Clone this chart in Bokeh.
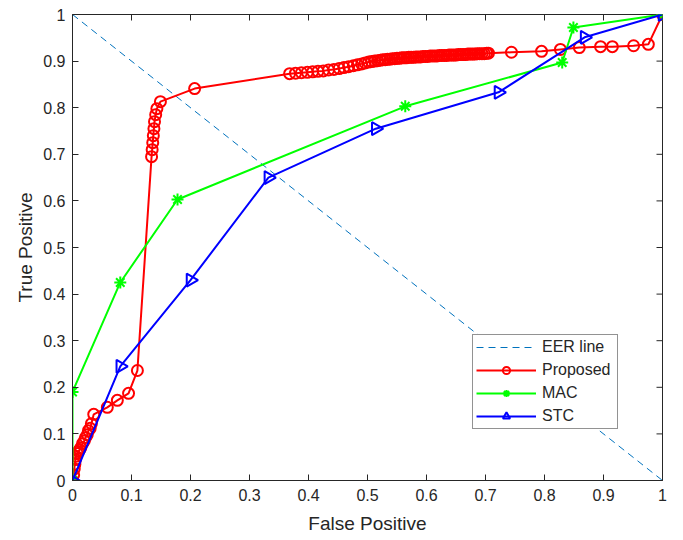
import math
from bokeh.plotting import figure
from bokeh.models import Range1d, Legend, LegendItem, FixedTicker
from bokeh.embed import file_html
from bokeh.resources import INLINE

# ---- data ----
ticks = [0.0, 0.1, 0.2, 0.3, 0.4, 0.5, 0.6, 0.7, 0.8, 0.9, 1.0]
tick_labels = ["0", "0.1", "0.2", "0.3", "0.4", "0.5", "0.6", "0.7", "0.8", "0.9", "1"]

eer_fp = [0.0, 1.0]
eer_tp = [1.0, 0.0]

prop_fp = [0.0, 0.002, 0.003, 0.004, 0.005, 0.006, 0.008, 0.010, 0.012, 0.014,
           0.017, 0.020, 0.022, 0.025, 0.027, 0.030, 0.032, 0.036,
           0.059, 0.076, 0.095, 0.110,
           0.134, 0.135, 0.136, 0.137, 0.138, 0.139, 0.141, 0.143, 0.149,
           0.207,
           0.368, 0.378, 0.388, 0.398, 0.407, 0.416, 0.425, 0.434, 0.443, 0.452,
           0.460, 0.468, 0.476, 0.483, 0.490,
           0.496, 0.502, 0.507, 0.512, 0.517,
           0.522, 0.526, 0.530, 0.534, 0.538, 0.542, 0.546, 0.550, 0.554, 0.558,
           0.562, 0.566, 0.570, 0.574, 0.578, 0.582, 0.586, 0.590, 0.594, 0.598,
           0.602, 0.606, 0.610, 0.614, 0.618, 0.622, 0.626, 0.630, 0.634, 0.638,
           0.642, 0.646, 0.650, 0.654, 0.658, 0.662, 0.666, 0.670, 0.674, 0.678,
           0.682, 0.686, 0.690, 0.694, 0.698, 0.702, 0.705,
           0.744, 0.795, 0.827, 0.859, 0.895, 0.915, 0.951, 0.976, 1.0]
prop_tp = [0.0, 0.012, 0.025, 0.035, 0.045, 0.052, 0.058, 0.062, 0.066, 0.070,
           0.079, 0.085, 0.092, 0.098, 0.107, 0.112, 0.122, 0.142,
           0.157, 0.172, 0.187, 0.236,
           0.695, 0.710, 0.725, 0.740, 0.755, 0.770, 0.785, 0.798, 0.813,
           0.841,
           0.873, 0.874, 0.875, 0.876, 0.877, 0.878, 0.879, 0.881, 0.882, 0.884,
           0.886, 0.888, 0.890, 0.892, 0.894,
           0.896, 0.898, 0.899, 0.900, 0.901,
           0.902, 0.903, 0.903, 0.904, 0.904, 0.905, 0.905, 0.906, 0.906, 0.907,
           0.907, 0.907, 0.908, 0.908, 0.908, 0.909, 0.909, 0.909, 0.910, 0.910,
           0.910, 0.911, 0.911, 0.911, 0.911, 0.912, 0.912, 0.912, 0.912, 0.913,
           0.913, 0.913, 0.913, 0.914, 0.914, 0.914, 0.914, 0.915, 0.915, 0.915,
           0.915, 0.916, 0.916, 0.916, 0.916, 0.917, 0.917,
           0.919, 0.921, 0.925, 0.929, 0.931, 0.931, 0.933, 0.936, 1.0]

mac_fp = [0.0, 0.0, 0.081, 0.178, 0.564, 0.830, 0.849, 1.0]
mac_tp = [0.0, 0.190, 0.425, 0.603, 0.803, 0.897, 0.972, 1.0]

stc_fp = [0.0, 0.081, 0.200, 0.332, 0.514, 0.722, 0.868, 1.0]
stc_tp = [0.0, 0.245, 0.430, 0.650, 0.755, 0.833, 0.951, 1.0]

FONT = "Liberation Sans"
TXT = "#262626"

p = figure(width=683, height=540, output_backend="svg", toolbar_location=None,
           x_range=Range1d(0, 1), y_range=Range1d(0, 1),
           min_border_left=72, min_border_right=21, min_border_top=14, min_border_bottom=60,
           background_fill_color="white", border_fill_color="white")
p.xgrid.visible = False
p.ygrid.visible = False
p.outline_line_color = TXT

for ax in (p.xaxis[0], p.yaxis[0]):
    ax.ticker = FixedTicker(ticks=ticks)
    ax.major_label_overrides = {t: l for t, l in zip(ticks, tick_labels)}
    ax.major_tick_in = 6
    ax.major_tick_out = 0
    ax.minor_tick_in = 0
    ax.minor_tick_out = 0
    ax.axis_line_color = TXT
    ax.major_tick_line_color = TXT
    ax.major_label_text_font = FONT
    ax.major_label_text_font_size = "16px"
    ax.major_label_text_color = TXT
    ax.axis_label_text_font = FONT
    ax.axis_label_text_font_size = "19px"
    ax.axis_label_text_font_style = "normal"
    ax.axis_label_text_color = TXT

p.xaxis[0].axis_label = "False Positive"
p.yaxis[0].axis_label = "True Positive"
p.xaxis[0].major_label_standoff = 8
p.xaxis[0].axis_label_standoff = 9
p.yaxis[0].major_label_standoff = 7
p.yaxis[0].axis_label_standoff = 4

# mirrored inward ticks on the top and right edges of the box
n = len(ticks)
p.ray(x=ticks, y=[ticks[-1]] * n, length=6, length_units="screen", angle=-math.pi / 2,
      line_color=TXT, line_width=1)
p.ray(x=[ticks[-1]] * n, y=ticks, length=6, length_units="screen", angle=math.pi,
      line_color=TXT, line_width=1)

eer = p.line(eer_fp, eer_tp, line_color="#0072BD", line_width=1, line_dash="7 5")

pl = p.line(prop_fp, prop_tp, line_color="#FF0000", line_width=2)
ps = p.scatter(prop_fp, prop_tp, marker="circle", size=11, line_color="#FF0000",
               line_width=2, fill_alpha=0)

ml = p.line(mac_fp, mac_tp, line_color="#00FF00", line_width=2)
ms = p.scatter(mac_fp, mac_tp, marker="asterisk", size=12, line_color="#00FF00",
               line_width=2)

sl = p.line(stc_fp, stc_tp, line_color="#0000FF", line_width=2)
ss = p.scatter(stc_fp, stc_tp, marker="triangle", size=13, angle=-math.pi / 2,
               line_color="#0000FF", line_width=2, fill_alpha=0)

legend = Legend(items=[
    LegendItem(label="EER line", renderers=[eer]),
    LegendItem(label="Proposed", renderers=[pl, ps]),
    LegendItem(label="MAC", renderers=[ml, ms]),
    LegendItem(label="STC", renderers=[sl, ss]),
], location=(400, 51))
legend.label_text_font = FONT
legend.label_text_font_size = "16px"
legend.label_text_color = TXT
legend.label_height = 18
legend.glyph_height = 18
legend.glyph_width = 60
legend.label_width = 72
legend.label_standoff = 6
legend.spacing = 5
legend.padding = 3
legend.margin = 0
legend.border_line_color = TXT
legend.border_line_width = 1
legend.background_fill_color = "white"
legend.background_fill_alpha = 1
p.add_layout(legend, "center")

open("out.html", "w").write(file_html(p, INLINE))
